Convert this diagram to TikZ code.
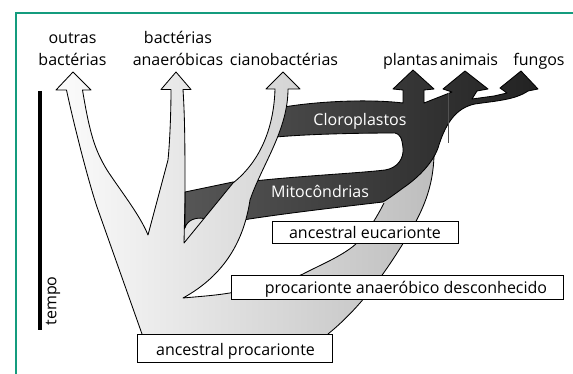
\documentclass[tikz,border=0pt]{standalone}
\usepackage{fontspec}
\setmainfont{Open Sans}
\definecolor{frameteal}{HTML}{149C7E}
\def\LSfillpath{(73,72) -- (91,90) -- (82.5,90) .. controls (90,135) and (95,150) .. (107,170) .. controls (120,190) and (140,215) .. (148,235) -- (168,160) .. controls (170,140) and (171,110) .. (171,89.5) -- (161,89.5) -- (176,72) -- (191,89.5) -- (183,89.5) .. controls (185,120) and (185,150) .. (185,200) -- (233,183) .. controls (262,160) and (274,125) .. (275,89) -- (266,89) -- (283,72) -- (300,89) -- (288,89) .. controls (288,130) and (262,165) .. (250,200) .. controls (244,240) and (225,275) .. (183,298) .. controls (205,296) and (222,295) .. (240,291) .. controls (265,287) and (290,280) .. (303,274) .. controls (320,265) and (345,255) .. (358,242) .. controls (368,232) and (378,215) .. (384,203) -- (405,170) -- (425,150) -- (434,156) .. controls (433,185) and (425,205) .. (413,227) .. controls (398,252) and (370,300) .. (328,334) -- (142,334) -- (97,207) .. controls (88,180) and (74,125) .. (66.5,90) -- (56,90) -- cycle}
\def\LSstrokepath{(142,334) -- (97,207) .. controls (88,180) and (74,125) .. (66.5,90) -- (56,90) -- (73,72) -- (91,90) -- (82.5,90) .. controls (90,135) and (95,150) .. (107,170) .. controls (120,190) and (140,215) .. (148,235) -- (168,160) .. controls (170,140) and (171,110) .. (171,89.5) -- (161,89.5) -- (176,72) -- (191,89.5) -- (183,89.5) .. controls (185,120) and (185,150) .. (185,200) -- (184,243) -- (233,183) .. controls (262,160) and (274,125) .. (275,89) -- (266,89) -- (283,72) -- (300,89) -- (288,89) .. controls (288,130) and (262,165) .. (250,200) .. controls (244,240) and (225,275) .. (183,298) .. controls (205,296) and (222,295) .. (240,291) .. controls (265,287) and (290,280) .. (303,274) .. controls (320,265) and (345,255) .. (358,242) .. controls (368,232) and (378,215) .. (384,203)}
\def\LSouterpath{(434,156) .. controls (433,185) and (425,205) .. (413,227) .. controls (398,252) and (370,300) .. (328,334)}
\def\DKshapepath{(413,70) -- (434,89) -- (424,90) -- (424,103) -- (452,92) -- (443,89) -- (465,71) -- (488,89) -- (477,91) -- (472,99) -- (494,96) -- (507,93) -- (500,88) -- (521,71) -- (538,89) -- (528,91) .. controls (515,100) and (495,101) .. (475,104) .. controls (455,108) and (445,125) .. (438,148) .. controls (432,165) and (415,180) .. (403,188) .. controls (395,194) and (388,199) .. (383,202) .. controls (340,207) and (280,214) .. (243,220) -- (210,219) -- (204,218.5) .. controls (196,217) and (187,220) .. (185,228) -- (185,192) -- (233,182) -- (254,181) .. controls (300,176) and (360,173) .. (385,170) .. controls (398,168) and (404,158) .. (403,148) .. controls (402,138) and (400,134) .. (395,133) .. controls (360,133) and (310,134) .. (276,137) -- (277,122) -- (284,107) .. controls (320,101) and (370,99) .. (403,103) -- (403,90) -- (393,89) -- cycle}
\def\CYshapepath{(275,89) -- (266,89) -- (283,72) -- (300,89) -- (288,89) .. controls (288,130) and (262,165) .. (250,200) .. controls (244,240) and (225,275) .. (183,298) -- (184,243) -- (233,183) .. controls (262,160) and (274,125) .. (275,89) -- cycle}
\begin{document}
\begin{tikzpicture}[x=1pt,y=-1pt,
  edge/.style={draw=black,line width=0.85pt,line join=round},
  lbl/.style={font=\fontsize{16}{19}\selectfont,inner sep=0pt,anchor=base},
  box/.style={draw=black,fill=white,line width=0.85pt,inner sep=0pt,anchor=north west},
  framel/.style={draw=frameteal,line width=1.4pt},
  timebar/.style={draw=black,line width=4pt},
  lightshade/.style={left color=black!1,middle color=black!7,right color=black!26},
  darkshade/.style={left color=black!66,middle color=black!78,right color=black!87}]
\useasboundingbox (0,0) rectangle (573,374);
% frame
\coordinate (fa) at (16,13);
\coordinate (fb) at (573,13);
\coordinate (fc) at (16,374);
\draw[framel] (fc) -- (fa) -- (fb);
% time bar
\coordinate (tb1) at (39.7,91);
\coordinate (tb2) at (39.7,330);
\draw[timebar] (tb1) -- (tb2);
\node[lbl,rotate=90,anchor=center] (tempo) at (53,301) {tempo};
% light tree fill
\begin{scope}
\clip \LSfillpath;
\shade[lightshade] (50,60) rectangle (440,340);
\end{scope}
% dark shape
\begin{scope}
\clip \DKshapepath;
\shade[darkshade] (180,60) rectangle (545,240);
\end{scope}
\draw[edge] \DKshapepath;
\coordinate (sm1) at (448,93);
\coordinate (sm2) at (448,143);
\draw[black!68,line width=0.3pt] (sm1) -- (sm2);
% cyanobacteria shaft over the bands
\begin{scope}
\clip \CYshapepath;
\shade[lightshade] (50,60) rectangle (440,340);
\end{scope}
% outlines of the light tree
\draw[edge] \LSstrokepath;
\draw[edge] \LSouterpath;
% top labels
\node[lbl] (t1a) at (72.5,43.3) {outras};
\node[lbl] (t1b) at (72.5,65.7) {bactérias};
\node[lbl] (t2a) at (178,43.3) {bactérias};
\node[lbl] (t2b) at (178,65.7) {anaeróbicas};
\node[lbl] (t3) at (284,65.7) {cianobactérias};
\node[lbl] (t4) at (410.5,65.7) {plantas};
\node[lbl] (t5) at (469,65.7) {animais};
\node[lbl] (t6) at (539,65.7) {fungos};
\node[lbl,text=white] (clo) at (360,126) {Cloroplastos};
\node[lbl,text=white] (mit) at (320,198) {Mitocôndrias};
% boxes
\node[box,minimum width=186pt,minimum height=22pt] (beuc) at (272,221) {};
\node[box,minimum width=332pt,minimum height=24pt] (bpro) at (231,275) {};
\node[box,minimum width=195pt,minimum height=28pt] (banc) at (137,334) {};
\node[lbl] (teuc) at (365,238.3) {ancestral eucarionte};
\node[lbl] (tpro) at (406,293.3) {procarionte anaeróbico desconhecido};
\node[lbl] (tanc) at (235.5,355) {ancestral procarionte};
\end{tikzpicture}
\end{document}
